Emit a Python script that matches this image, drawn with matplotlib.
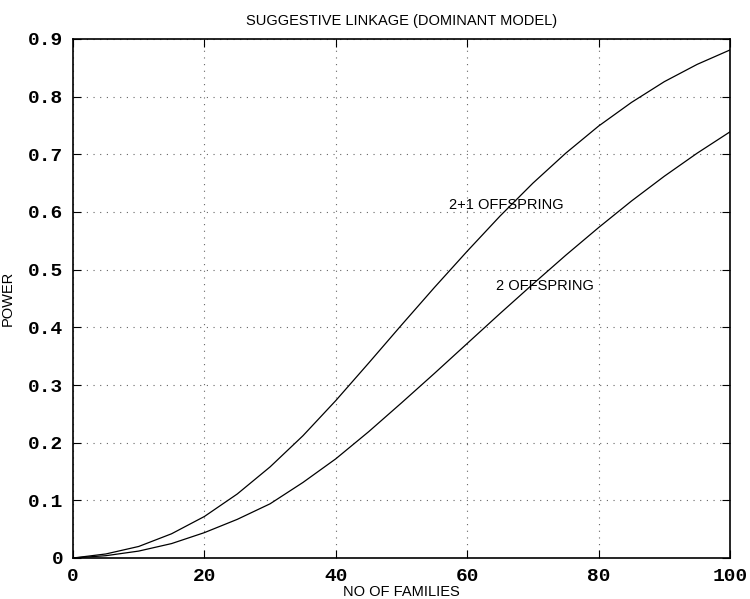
import matplotlib
matplotlib.use("Agg")
import matplotlib.pyplot as plt

# number of families
families = [0, 5, 10, 15, 20, 25, 30, 35, 40, 45, 50,
            55, 60, 65, 70, 75, 80, 85, 90, 95, 100]
# power, 2+1 offspring design
power_2p1 = [0, 0.007, 0.02, 0.042, 0.072, 0.111, 0.158, 0.212, 0.273, 0.338, 0.404,
             0.469, 0.532, 0.593, 0.65, 0.702, 0.749, 0.79, 0.826, 0.856, 0.881]
# power, 2 offspring design
power_2 = [0, 0.004, 0.012, 0.025, 0.044, 0.067, 0.094, 0.131, 0.172, 0.219, 0.269,
           0.32, 0.372, 0.424, 0.475, 0.525, 0.573, 0.619, 0.662, 0.702, 0.739]

xticks = [0, 20, 40, 60, 80, 100]
yticks = [0, 0.1, 0.2, 0.3, 0.4, 0.5, 0.6, 0.7, 0.8, 0.9]
ytick_labels = ["0", "0.1", "0.2", "0.3", "0.4", "0.5", "0.6", "0.7", "0.8", "0.9"]

label_font = dict(family="Liberation Sans", fontsize=10.5)
tick_font = dict(family="Liberation Mono", fontsize=14, fontweight="bold")

fig = plt.figure(figsize=(7.5, 5.99), dpi=100)
ax = fig.add_axes([73 / 750, 41 / 599, 657 / 750, 519 / 599])

ax.plot(families, power_2p1, "-", color="black", linewidth=0.9)
ax.plot(families, power_2, "-", color="black", linewidth=0.9)

ax.text(57.2, 0.612, "2+1 OFFSPRING", va="center", ha="left", **label_font)
ax.text(64.4, 0.472, "2 OFFSPRING", va="center", ha="left", **label_font)

ax.set_xlim(0, 100)
ax.set_ylim(0, 0.9)
ax.set_xticks(xticks)
ax.set_xticklabels([str(v) for v in xticks], **tick_font)
ax.set_yticks(yticks)
ax.set_yticklabels(ytick_labels, **tick_font)
ax.tick_params(direction="in", length=6, width=0.8, top=True, right=True,
               pad=7, colors="black")
ax.tick_params(axis="x", pad=7)

ax.grid(True, color="#666666", linewidth=0.8, linestyle=(0, (1, 5)))
for s in ax.spines.values():
    s.set_linewidth(1.2)

ax.set_title("SUGGESTIVE LINKAGE (DOMINANT MODEL)", pad=10, **label_font)
ax.set_xlabel("NO OF FAMILIES", labelpad=0, **label_font)
ax.set_ylabel("POWER", **label_font)
ax.yaxis.set_label_coords(-0.088, 0.5)

fig.savefig("out.png", dpi=100)
plt.close(fig)
